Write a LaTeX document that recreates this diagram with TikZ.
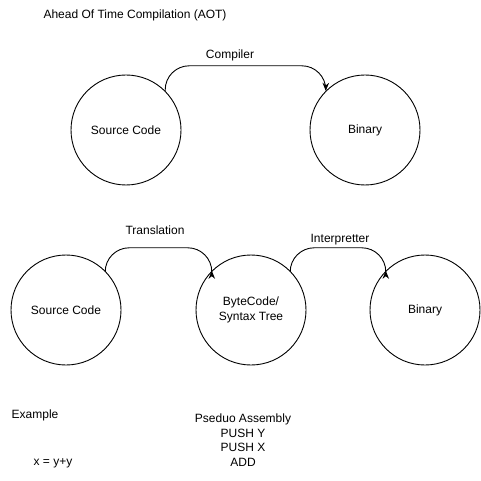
\documentclass[tikz,border=0pt]{standalone}
\usepackage{fontspec}
\setmainfont{Liberation Sans}
\usetikzlibrary{arrows.meta}

\begin{document}
\begin{tikzpicture}[x=1pt,y=-1pt,
    every node/.style={font=\fontsize{12}{14.5}\selectfont},
    stage/.style={draw,circle,line width=0.9pt,minimum size=110pt,inner sep=0pt,align=center},
    flow/.style={-{Stealth[length=8pt,width=6.5pt]},line width=0.9pt,rounded corners=24pt}]
  \useasboundingbox (0,0) rectangle (481,481);
  % ahead of time
  \node (aot) at (135,15) {Ahead Of Time Compilation (AOT)};
  \node [stage] (src) at (126,130) {Source Code};
  \node [stage] (bin) at (365,130) {Binary};
  \draw [flow] (src.45) -- ++(0,-25) -| (bin.135);
  \node (comp) at (230,55) {Compiler};
  % interpreted
  \node [stage] (src2) at (66,310) {Source Code};
  \node [stage] (byte) at (251,310) {ByteCode/\\Syntax Tree};
  \node [stage] (bin2) at (425,310) {Binary};
  \draw [flow] (src2.45) -- ++(0,-23) -| (byte.135);
  \draw [flow] (byte.45) -- ++(0,-23) -| (bin2.135);
  \node (trans) at (155,230) {Translation};
  \node (interp) at (340,240) {Interpretter};
  % example
  \node (ex) at (35,415) {Example};
  \node (expr) at (53,463) {x = y+y};
  \node [align=center] (asm) at (243,440) {Pseduo Assembly\\PUSH Y\\PUSH X\\ADD};
\end{tikzpicture}
\end{document}
